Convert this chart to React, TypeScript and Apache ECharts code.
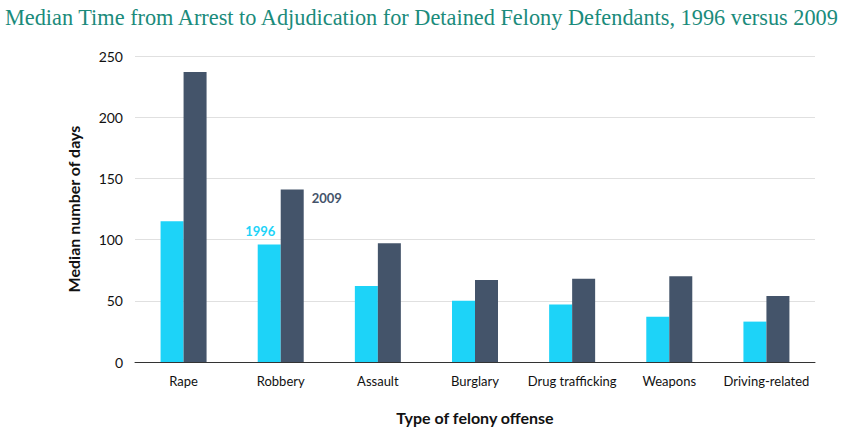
import React, { useEffect, useRef } from "react";
import * as echarts from "echarts";

const categories = ["Rape", "Robbery", "Assault", "Burglary", "Drug trafficking", "Weapons", "Driving-related"];
const values1996 = [115, 96, 62, 50, 47, 37, 33];
const values2009 = [237, 141, 97, 67, 68, 70, 54];
const yTicks = [0, 50, 100, 150, 200, 250];

const C1996 = "#1dd3f8";
const C2009 = "#44546a";
const FONT = "Lato";

export default function App() {
  const ref = useRef<HTMLDivElement>(null);
  useEffect(() => {
    if (!ref.current) return;
    const chart = echarts.init(ref.current, undefined, { renderer: "svg" });
    chart.setOption({
      animation: false,
      title: {
        text: "Median Time from Arrest to Adjudication for Detained Felony Defendants, 1996 versus 2009",
        left: 0,
        top: 1,
        textStyle: { fontFamily: "Liberation Serif", fontWeight: "normal", fontSize: 22.3, color: "#1b8b7b" },
      },
      grid: { left: 135, right: 30, top: 56, bottom: 66 },
      xAxis: {
        type: "category",
        data: categories,
        axisLine: { lineStyle: { color: "#333", width: 1 } },
        axisTick: { show: false },
        axisLabel: { fontFamily: FONT, fontSize: 13, color: "#111", margin: 12, interval: 0 },
        name: "Type of felony offense",
        nameLocation: "middle",
        nameGap: 47,
        nameTextStyle: { fontFamily: FONT, fontSize: 16, fontWeight: "bold", color: "#111" },
      },
      yAxis: {
        type: "value",
        min: yTicks[0],
        max: yTicks[yTicks.length - 1],
        interval: 50,
        axisLine: { show: false },
        axisTick: { show: false },
        splitLine: { lineStyle: { color: "#e0e0e0" } },
        axisLabel: { fontFamily: FONT, fontSize: 14, color: "#111", margin: 12 },
        name: "Median number of days",
        nameLocation: "middle",
        nameGap: 54,
        nameTextStyle: { fontFamily: FONT, fontSize: 16, fontWeight: "bold", color: "#111" },
      },
      series: [
        {
          name: "1996",
          type: "bar",
          barWidth: 23,
          barGap: "0%",
          itemStyle: { color: C1996 },
          data: values1996.map((v, i) =>
            i === 1
              ? {
                  value: v,
                  label: {
                    show: true,
                    formatter: "1996",
                    position: ["50%", 0],
                    align: "center",
                    verticalAlign: "bottom",
                    offset: [-9, -7],
                    fontFamily: FONT,
                    fontWeight: "bold",
                    fontSize: 13,
                    color: C1996,
                  },
                }
              : v
          ),
        },
        {
          name: "2009",
          type: "bar",
          barWidth: 23,
          barGap: "0%",
          itemStyle: { color: C2009 },
          data: values2009.map((v, i) =>
            i === 1
              ? {
                  value: v,
                  label: {
                    show: true,
                    formatter: "2009",
                    position: ["100%", 0],
                    align: "left",
                    verticalAlign: "top",
                    offset: [8, 2],
                    fontFamily: FONT,
                    fontWeight: "bold",
                    fontSize: 13,
                    color: C2009,
                  },
                }
              : v
          ),
        },
      ],
    });
    return () => chart.dispose();
  }, []);
  return <div ref={ref} style={{ width: 845, height: 430, position: "absolute", left: 0, top: 0 }} />;
}
